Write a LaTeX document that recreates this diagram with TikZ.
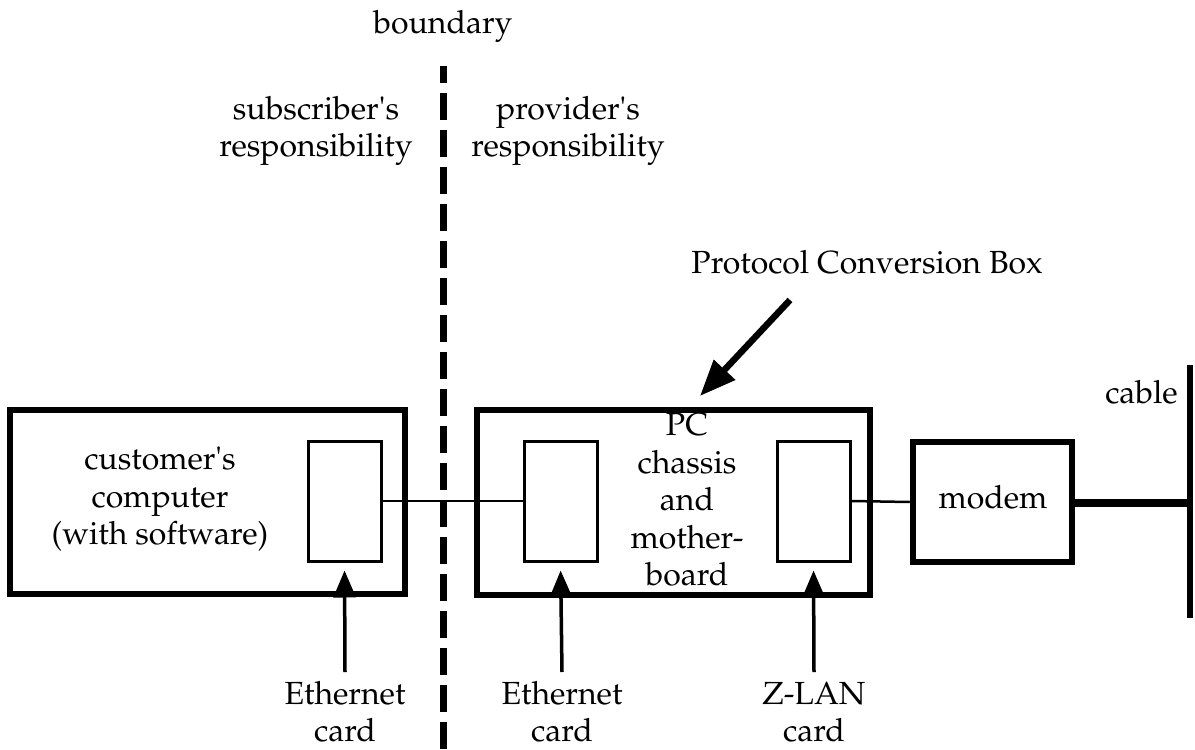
\documentclass[tikz,border=0pt]{standalone}
\usepackage[T1]{fontenc}
\usepackage{textcomp}
\usepackage{mathpazo}
\usetikzlibrary{arrows.meta}
\newcommand{\apos}{\textquotesingle}
\tikzset{
  bigbox/.style={draw, line width=6.5pt, inner sep=0pt},
  cardbox/.style={draw, line width=3pt, inner sep=0pt, minimum width=73pt, minimum height=120pt},
  lbl/.style={align=center, inner sep=0pt, font=\fontsize{32}{37.5}\selectfont},
  wire/.style={line width=2.5pt},
  pointer/.style={line width=3.5pt, -{Triangle[length=27pt,width=22pt]}, shorten >=8pt},
  bigpointer/.style={line width=6.5pt, -{Triangle[length=36pt,width=28pt]}},
}
\begin{document}
\begin{tikzpicture}[x=1pt,y=-1pt]
\useasboundingbox (0,0) rectangle (1195,750);
% boundary
\node[lbl] (boundary) at (443,26) {boundary};
\coordinate (btop) at (443,66);
\coordinate (bbot) at (443,750);
\draw[line width=7pt, dash pattern=on 27pt off 10pt, dash phase=10pt] (btop) -- (bbot);
\node[lbl] (subs) at (316,131) {subscriber\apos s\\responsibility};
\node[lbl] (prov) at (568,131) {provider\apos s\\responsibility};
% customer computer
\node[bigbox, minimum width=395pt, minimum height=184pt] (cust) at (207.5,502) {};
\node[lbl] (custtxt) at (160,499) {customer\apos s\\computer\\(with software)};
\node[cardbox] (card1) at (344.5,501) {};
% PC box
\node[bigbox, minimum width=393pt, minimum height=185pt] (pc) at (673.5,502.5) {};
\node[lbl] (pctxt) at (687,500) {PC\\chassis\\and\\mother-\\board};
\node[cardbox] (card2) at (560.5,501) {};
\node[cardbox] (card3) at (813.5,501) {};
% modem
\node[bigbox, minimum width=159pt, minimum height=120pt] (modem) at (992.5,502) {};
\node[lbl] (modemtxt) at (993,497) {modem};
% cable
\coordinate (ctop) at (1190,365);
\coordinate (cbot) at (1190,618);
\coordinate (cmid) at (1190,503);
\draw[line width=6.5pt] (ctop) -- (cbot);
\draw[line width=8.5pt] (modem.east |- cmid) -- (cmid);
\node[lbl, anchor=east] (cable) at (1178,392) {cable};
% wires
\draw[wire] (card1.east) -- (card2.west);
\draw[wire] (card3.east) -- (modem.west);
% protocol label
\node[lbl] (proto) at (867,262) {Protocol Conversion Box};
\coordinate (ptail) at (790,300);
\coordinate (ptip) at (700,396);
\draw[bigpointer] (ptail) -- (ptip);
% bottom labels
\node[lbl] (lab1) at (345,712) {Ethernet\\card};
\node[lbl] (lab2) at (562,712) {Ethernet\\card};
\node[lbl] (lab3) at (814,712) {Z-LAN\\card};
\coordinate (t1) at (345,672);
\coordinate (t2) at (562,672);
\coordinate (t3) at (814,672);
\draw[pointer] (t1) -- (card1.south);
\draw[pointer] (t2) -- (card2.south);
\draw[pointer] (t3) -- (card3.south);
\end{tikzpicture}
\end{document}
